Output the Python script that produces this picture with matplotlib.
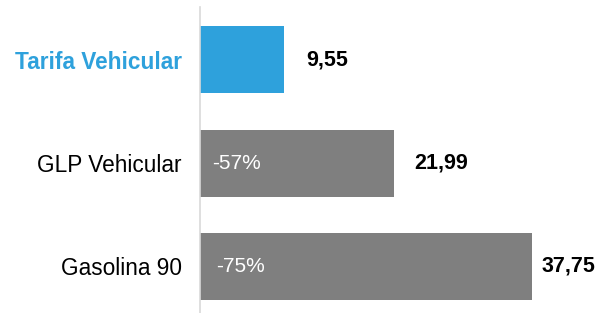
import numpy as np
import matplotlib.pyplot as plt

plt.rcParams['font.family'] = ['Liberation Sans', 'DejaVu Sans']

categorias = ["Tarifa Vehicular", "GLP Vehicular", "Gasolina 90"]
valores = [9.55, 21.99, 37.75]
etiquetas = ["9,55", "21,99", "37,75"]
ahorro = ["", "-57%", "-75%"]

azul = "#2EA1DC"
gris = "#7F7F7F"
colores = [azul, gris, gris]

fig = plt.figure(figsize=(5.97, 3.13), dpi=100)
ax = fig.add_axes([200 / 597, 0, 397 / 597, 306 / 313])

y = np.arange(len(categorias))
ax.barh(y, valores, height=0.65, color=colores)

ax.set_xlim(0, 397 / 8.8)
ax.set_ylim(2.45, -0.51)

# etiquetas de valor
desp = [22, 21, 9]
for yi, v, t, d in zip(y, valores, etiquetas, desp):
    ax.annotate(t, (v, yi), xytext=(d * 0.72, 0), textcoords="offset points",
                ha="left", va="center", fontsize=15.5, fontweight="bold",
                color="black")

# porcentajes dentro de las barras
desp_p = [0, 12, 16]
for yi, t, d in zip(y, ahorro, desp_p):
    if t:
        ax.annotate(t, (0, yi), xytext=(d * 0.72, 0), textcoords="offset points",
                    ha="left", va="center", fontsize=15, color="white")

ax.set_yticks(y)
ax.set_yticklabels(categorias, fontsize=16.3)
lbl = ax.get_yticklabels()
lbl[0].set_color(azul)
lbl[0].set_fontweight("bold")
ax.tick_params(axis="y", length=0, pad=13)
ax.set_xticks([])

for s in ["top", "right", "bottom"]:
    ax.spines[s].set_visible(False)
ax.spines["left"].set_color("#D9D9D9")
ax.spines["left"].set_linewidth(1.2)

fig.savefig("out.png", dpi=100)
